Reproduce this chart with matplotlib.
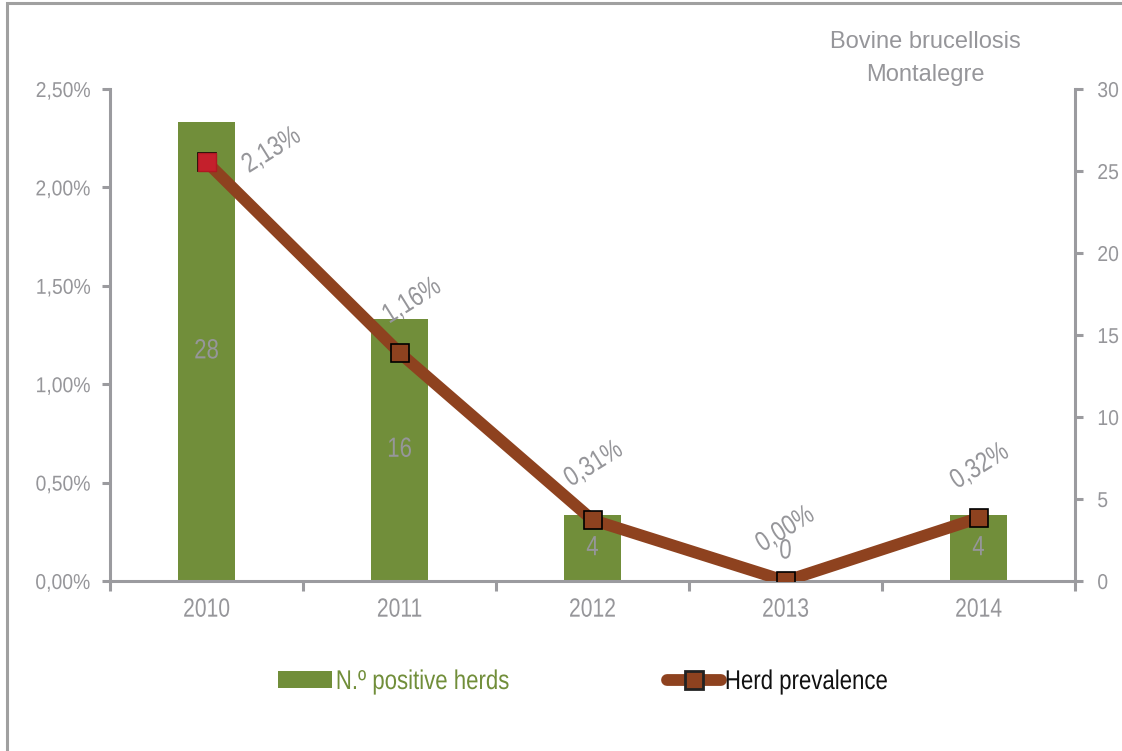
import matplotlib
matplotlib.use("Agg")
import matplotlib.pyplot as plt
from matplotlib.ticker import FuncFormatter, FixedLocator
from matplotlib.patches import Rectangle, Patch
from matplotlib.lines import Line2D
from matplotlib.patheffects import AbstractPathEffect
from matplotlib.transforms import Affine2D

plt.rcParams['font.family'] = ['Liberation Sans', 'DejaVu Sans']

years = ['2010', '2011', '2012', '2013', '2014']
positive_herds = [28, 16, 4, 0, 4]
prevalence = [2.13, 1.16, 0.31, 0.00, 0.32]
title_lines = ['Bovine brucellosis', 'Montalegre']

GREEN = '#718E3A'
BROWN = '#8E421F'
RED = '#C4202C'
GREY = '#96969A'
SPINE = '#9B9B9F'


class Condense(AbstractPathEffect):
    """Narrow the glyphs horizontally (Arial Narrow look)."""
    def __init__(self, sx=0.82, anchor='center'):
        super().__init__()
        self.sx = sx
        self.anchor = anchor

    def draw_path(self, renderer, gc, tpath, affine, rgbFace=None):
        ext = tpath.get_extents()
        if self.anchor == 'left':
            cx = ext.x0
        elif self.anchor == 'right':
            cx = ext.x1
        else:
            cx = (ext.x0 + ext.x1) / 2
        t = Affine2D().translate(-cx, 0).scale(self.sx, 1).translate(cx, 0) + affine
        renderer.draw_path(gc, tpath, t, rgbFace)


fig = plt.figure(figsize=(11.22, 7.51), dpi=100)
# outer frame
fig.add_artist(Rectangle((7/1122, -0.05), 1.2, 1 - 3/751 + 0.05, transform=fig.transFigure,
                         fill=False, edgecolor='#A0A0A0', linewidth=2.2))

ax2 = fig.add_axes([110/1122, 1 - 581/751, 965/1122, 492/751])
ax = ax2.twinx()
ax.yaxis.tick_left()
ax.yaxis.set_label_position('left')
ax2.yaxis.tick_right()
ax.set_zorder(ax2.get_zorder() + 1)
ax.patch.set_visible(False)

x = list(range(len(years)))
ax2.bar(x, positive_herds, width=0.295, color=GREEN, zorder=2)
ax2.set_ylim(0, 30)
ax2.set_xlim(-0.5, len(years) - 0.5)
ax2.set_yticks([0, 5, 10, 15, 20, 25, 30])

ax.plot(x, prevalence, color=BROWN, linewidth=8.5, marker='s', markersize=13,
        markerfacecolor=BROWN, markeredgecolor='black', markeredgewidth=1.2,
        solid_capstyle='round', zorder=3)
ax.plot(x[:1], prevalence[:1], linestyle='none', marker='s', markersize=13.5,
        markerfacecolor=RED, markeredgecolor='#B01822', markeredgewidth=1.0, zorder=4)
ax.set_ylim(0, 2.5)
ax.set_yticks([0, 0.5, 1.0, 1.5, 2.0, 2.5])
ax.yaxis.set_major_formatter(FuncFormatter(lambda v, p: f"{v:.2f}".replace('.', ',') + '%'))

for a in (ax, ax2):
    a.spines['top'].set_visible(False)
    for s in ('left', 'right', 'bottom'):
        a.spines[s].set_color(SPINE)
        a.spines[s].set_linewidth(2.2)
ax.spines['right'].set_visible(False)
ax.spines['bottom'].set_visible(False)
ax2.spines['left'].set_visible(False)

ax.tick_params(axis='y', direction='out', length=6, width=2.2, color=SPINE,
               labelcolor=GREY, labelsize=15.5, pad=8)
ax2.tick_params(axis='y', direction='out', length=6, width=2.2, color=SPINE,
                labelcolor=GREY, labelsize=15.5, pad=10)
ax2.set_xticks(x)
ax2.set_xticklabels(years)
ax2.tick_params(axis='x', which='major', length=0, labelcolor=GREY, labelsize=19, pad=12)
ax2.xaxis.set_minor_locator(FixedLocator([i - 0.5 for i in range(len(years) + 1)]))
ax2.tick_params(axis='x', which='minor', direction='out', length=7, width=2.2, color=SPINE)
ax.tick_params(axis='x', which='both', bottom=False, top=False,
               labelbottom=False, labeltop=False)

# bar value labels
for xi, v in zip(x, positive_herds):
    ypos = v / 2 if v > 0 else 1.8
    ax2.text(xi, ypos, str(v), ha='center', va='center', color=GREY, fontsize=20,
             zorder=5, path_effects=[Condense(0.8)])

# prevalence labels
offsets = [(47, 8), (9, 37), (1, 40), (0, 37), (1, 37)]
for xi, v, off in zip(x, prevalence, offsets):
    ax.annotate(f"{v:.2f}".replace('.', ',') + '%', (xi, v), xytext=off,
                textcoords='offset points', ha='center', va='center',
                rotation=32, color=GREY, fontsize=20, zorder=6,
                path_effects=[Condense(0.8)])

fig.text(925/1122, 1 - 42/751, title_lines[0], ha='center', va='center', color=GREY,
         fontsize=17)
fig.text(925/1122, 1 - 75/751, title_lines[1], ha='center', va='center', color=GREY,
         fontsize=17)

handles = [Patch(facecolor=GREEN, edgecolor='none'),
           Line2D([0], [0], color=BROWN, linewidth=8.5, marker='s', markersize=13,
                  markerfacecolor=BROWN, markeredgecolor='#222222', markeredgewidth=2,
                  solid_capstyle='round')]
leg = fig.legend(handles, ['N.º positive herds', 'Herd prevalence'], ncol=2,
                 loc='center left', bbox_to_anchor=(278/1122, 1 - 682/751), frameon=False,
                 fontsize=19.5, handlelength=2.0, handleheight=0.55, handletextpad=0.12,
                 columnspacing=4.4, borderpad=0, borderaxespad=0)
leg.get_texts()[0].set_color(GREEN)
leg.get_texts()[1].set_color('#111111')
for t in leg.get_texts():
    t.set_path_effects([Condense(0.82, 'left')])

for lbl in ax.get_yticklabels():
    lbl.set_path_effects([Condense(0.9, 'right')])
for lbl in ax2.get_yticklabels():
    lbl.set_path_effects([Condense(0.9, 'left')])
for lbl in ax2.get_xticklabels():
    lbl.set_path_effects([Condense(0.8)])

fig.savefig('out.png', dpi=100)
